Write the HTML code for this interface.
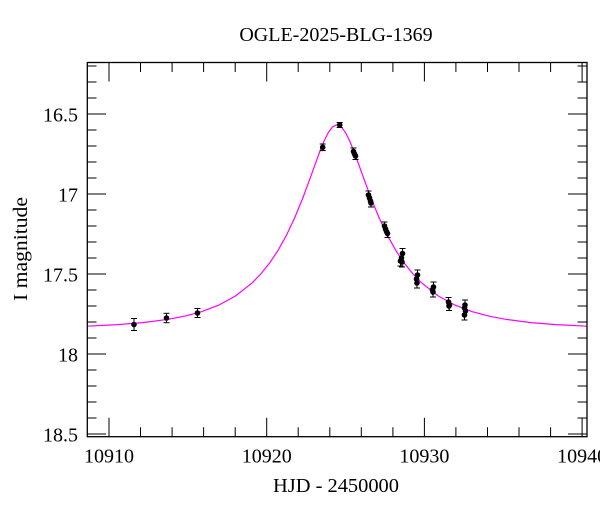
<!DOCTYPE html>
<html>
<head>
<meta charset="utf-8">
<style>
  html, body { margin: 0; padding: 0; background: #fff; }
  svg { display: block; }
  text { font-family: "Liberation Serif", "DejaVu Serif", serif; fill: #000; }
</style>
</head>
<body>
<svg width="600" height="512" viewBox="0 0 600 512" xmlns="http://www.w3.org/2000/svg">
  <rect x="0" y="0" width="600" height="512" fill="#fff"/>

  <!-- Title -->
  <text x="336" y="41" font-size="20" text-anchor="middle">OGLE-2025-BLG-1369</text>

  <!-- Model curve -->
  <polyline fill="none" stroke="#ff00ff" stroke-width="1.2" points="
    87,326.2 117.54,324.66 142.85,322.6 168.16,319.33 185.03,316.09 201.91,311.54 218.78,305.09 235.66,295.86 252.53,282.54 260.97,273.79 269.40,263.28 277.84,250.65 286.28,235.58 294.72,217.74 303.15,197.1 311.59,174.17 315.81,162.39 320.03,151.0 324.24,140.66 328.46,132.26 332.68,126.72 336.9,124.78 341.12,126.72 345.34,132.26 349.56,140.66 353.77,151.0 357.99,162.39 362.21,174.17 370.65,197.1 379.09,217.74 387.52,235.58 395.96,250.65 404.40,263.28 412.83,273.79 421.27,282.54 438.14,295.86 455.02,305.09 471.89,311.54 488.77,316.09 505.64,319.33 530.95,322.6 556.26,324.66 587,326.2"/>

  <!-- Data points with error bars -->
  <g stroke="#000" stroke-width="1" fill="#000">
    <!-- helper: each point = vertical bar, two caps, circle -->
    <g>
      <line x1="134" y1="318.5" x2="134" y2="330.5"/><line x1="131" y1="318.5" x2="137" y2="318.5"/><line x1="131" y1="330.5" x2="137" y2="330.5"/><circle cx="134" cy="324.5" r="2.8" stroke="none"/>
      <line x1="166.5" y1="313.3" x2="166.5" y2="322.7"/><line x1="163.5" y1="313.3" x2="169.5" y2="313.3"/><line x1="163.5" y1="322.7" x2="169.5" y2="322.7"/><circle cx="166.5" cy="318" r="2.8" stroke="none"/>
      <line x1="197.5" y1="308.5" x2="197.5" y2="317.5"/><line x1="194.5" y1="308.5" x2="200.5" y2="308.5"/><line x1="194.5" y1="317.5" x2="200.5" y2="317.5"/><circle cx="197.5" cy="313" r="2.8" stroke="none"/>

      <line x1="322.7" y1="144" x2="322.7" y2="150.6"/><line x1="319.7" y1="144" x2="325.7" y2="144"/><line x1="319.7" y1="150.6" x2="325.7" y2="150.6"/><circle cx="322.7" cy="147.3" r="2.8" stroke="none"/>
      <line x1="339.7" y1="122.5" x2="339.7" y2="127.5"/><line x1="336.7" y1="122.5" x2="342.7" y2="122.5"/><line x1="336.7" y1="127.5" x2="342.7" y2="127.5"/><circle cx="339.7" cy="125" r="2.8" stroke="none"/>
    </g>

    <!-- cluster 354 -->
    <g>
      <line x1="353.5" y1="148" x2="353.5" y2="155"/><line x1="350.5" y1="148" x2="356.5" y2="148"/><circle cx="353.5" cy="151.5" r="2.8" stroke="none"/>
      <line x1="354.5" y1="150.5" x2="354.5" y2="157.5"/><circle cx="354.5" cy="154" r="2.8" stroke="none"/>
      <line x1="355.5" y1="152.5" x2="355.5" y2="159.5"/><line x1="352.5" y1="159.5" x2="358.5" y2="159.5"/><circle cx="355.5" cy="156" r="2.8" stroke="none"/>
    </g>
    <!-- cluster 369 -->
    <g>
      <line x1="368.5" y1="191" x2="368.5" y2="199"/><line x1="365.5" y1="191" x2="371.5" y2="191"/><circle cx="368.5" cy="195" r="2.8" stroke="none"/>
      <line x1="369.5" y1="194" x2="369.5" y2="202"/><circle cx="369.5" cy="198" r="2.8" stroke="none"/>
      <line x1="370.5" y1="197" x2="370.5" y2="205"/><circle cx="370.5" cy="201" r="2.8" stroke="none"/>
      <line x1="371" y1="199" x2="371" y2="207"/><line x1="368" y1="207" x2="374" y2="207"/><circle cx="371" cy="203" r="2.8" stroke="none"/>
    </g>
    <!-- cluster 386 -->
    <g>
      <line x1="384.5" y1="222" x2="384.5" y2="230"/><line x1="381.5" y1="222" x2="387.5" y2="222"/><circle cx="384.5" cy="226" r="2.8" stroke="none"/>
      <line x1="385.5" y1="225" x2="385.5" y2="233"/><circle cx="385.5" cy="229" r="2.8" stroke="none"/>
      <line x1="386.5" y1="227.5" x2="386.5" y2="235.5"/><circle cx="386.5" cy="231.5" r="2.8" stroke="none"/>
      <line x1="387.5" y1="229.5" x2="387.5" y2="237.5"/><line x1="384.5" y1="237.5" x2="390.5" y2="237.5"/><circle cx="387.5" cy="233.5" r="2.8" stroke="none"/>
    </g>
    <!-- cluster 402 -->
    <g>
      <line x1="402.5" y1="248.5" x2="402.5" y2="258.5"/><line x1="399.5" y1="248.5" x2="405.5" y2="248.5"/><circle cx="402.5" cy="253.5" r="2.8" stroke="none"/>
      <line x1="401.5" y1="253" x2="401.5" y2="263"/><circle cx="401.5" cy="258" r="2.8" stroke="none"/>
      <line x1="400.5" y1="256" x2="400.5" y2="266"/><line x1="397.5" y1="266" x2="403.5" y2="266"/><circle cx="400.5" cy="261" r="2.8" stroke="none"/>
      <line x1="402" y1="257" x2="402" y2="267"/><line x1="399" y1="267" x2="405" y2="267"/><circle cx="402" cy="262" r="2.8" stroke="none"/>
    </g>
    <!-- cluster 417 -->
    <g>
      <line x1="417.5" y1="270" x2="417.5" y2="280"/><line x1="414.5" y1="270" x2="420.5" y2="270"/><circle cx="417.5" cy="275" r="2.8" stroke="none"/>
      <line x1="416.5" y1="274" x2="416.5" y2="284"/><circle cx="416.5" cy="279" r="2.8" stroke="none"/>
      <line x1="417" y1="278" x2="417" y2="288"/><line x1="414" y1="288" x2="420" y2="288"/><circle cx="417" cy="283" r="2.8" stroke="none"/>
    </g>
    <!-- cluster 433 -->
    <g>
      <line x1="433.5" y1="282" x2="433.5" y2="292"/><line x1="430.5" y1="282" x2="436.5" y2="282"/><circle cx="433.5" cy="287" r="2.8" stroke="none"/>
      <line x1="432.5" y1="285" x2="432.5" y2="295"/><circle cx="432.5" cy="290" r="2.8" stroke="none"/>
      <line x1="433" y1="287" x2="433" y2="297"/><line x1="430" y1="297" x2="436" y2="297"/><circle cx="433" cy="292" r="2.8" stroke="none"/>
    </g>
    <!-- cluster 449 -->
    <g>
      <line x1="448.5" y1="297.5" x2="448.5" y2="306.5"/><line x1="445.5" y1="297.5" x2="451.5" y2="297.5"/><circle cx="448.5" cy="302" r="2.8" stroke="none"/>
      <line x1="449.5" y1="300.5" x2="449.5" y2="309.5"/><circle cx="449.5" cy="305" r="2.8" stroke="none"/>
      <line x1="449" y1="301.5" x2="449" y2="310.5"/><line x1="446" y1="310.5" x2="452" y2="310.5"/><circle cx="449" cy="306" r="2.8" stroke="none"/>
    </g>
    <!-- cluster 465 -->
    <g>
      <line x1="465" y1="300" x2="465" y2="310"/><line x1="462" y1="300" x2="468" y2="300"/><circle cx="465" cy="305" r="2.8" stroke="none"/>
      <line x1="464.5" y1="303" x2="464.5" y2="313"/><circle cx="464.5" cy="308" r="2.8" stroke="none"/>
      <line x1="465.5" y1="306" x2="465.5" y2="316"/><circle cx="465.5" cy="311" r="2.8" stroke="none"/>
      <line x1="464.5" y1="310" x2="464.5" y2="320"/><line x1="461.5" y1="320" x2="467.5" y2="320"/><circle cx="464.5" cy="315" r="2.8" stroke="none"/>
    </g>
  </g>

  <!-- Axes frame -->
  <rect x="87.3" y="62.5" width="499.7" height="374.2" fill="none" stroke="#000" stroke-width="1.3"/>

  <!-- Ticks -->
  <g stroke="#000" stroke-width="1">
    <!-- Left & right: major -->
    <path d="M87,114 h19 M87,194 h19 M87,274 h19 M87,354 h19 M87,434 h19
             M587,114 h-19 M587,194 h-19 M587,274 h-19 M587,354 h-19 M587,434 h-19"/>
    <!-- Left & right: minor -->
    <path d="M87,66 h9.5 M87,82 h9.5 M87,98 h9.5 M87,130 h9.5 M87,146 h9.5 M87,162 h9.5 M87,178 h9.5
             M87,210 h9.5 M87,226 h9.5 M87,242 h9.5 M87,258 h9.5 M87,290 h9.5 M87,306 h9.5 M87,322 h9.5 M87,338 h9.5
             M87,370 h9.5 M87,386 h9.5 M87,402 h9.5 M87,418 h9.5
             M587,66 h-9.5 M587,82 h-9.5 M587,98 h-9.5 M587,130 h-9.5 M587,146 h-9.5 M587,162 h-9.5 M587,178 h-9.5
             M587,210 h-9.5 M587,226 h-9.5 M587,242 h-9.5 M587,258 h-9.5 M587,290 h-9.5 M587,306 h-9.5 M587,322 h-9.5 M587,338 h-9.5
             M587,370 h-9.5 M587,386 h-9.5 M587,402 h-9.5 M587,418 h-9.5"/>
    <!-- Bottom & top: major -->
    <path d="M109,436.7 v-19 M266.7,436.7 v-19 M424.4,436.7 v-19 M582.1,436.7 v-19
             M109,62.5 v19 M266.7,62.5 v19 M424.4,62.5 v19 M582.1,62.5 v19"/>
    <!-- Bottom & top: minor -->
    <path d="M140.5,436.7 v-9.5 M172.1,436.7 v-9.5 M203.6,436.7 v-9.5 M235.2,436.7 v-9.5
             M298.2,436.7 v-9.5 M329.8,436.7 v-9.5 M361.3,436.7 v-9.5 M392.9,436.7 v-9.5
             M455.9,436.7 v-9.5 M487.5,436.7 v-9.5 M519.0,436.7 v-9.5 M550.6,436.7 v-9.5
             M140.5,62.5 v9.5 M172.1,62.5 v9.5 M203.6,62.5 v9.5 M235.2,62.5 v9.5
             M298.2,62.5 v9.5 M329.8,62.5 v9.5 M361.3,62.5 v9.5 M392.9,62.5 v9.5
             M455.9,62.5 v9.5 M487.5,62.5 v9.5 M519.0,62.5 v9.5 M550.6,62.5 v9.5"/>
  </g>

  <!-- Y tick labels -->
  <g font-size="20" text-anchor="end">
    <text x="78" y="121.5">16.5</text>
    <text x="78" y="201.5">17</text>
    <text x="78" y="281.5">17.5</text>
    <text x="78" y="361.5">18</text>
    <text x="78" y="441.5">18.5</text>
  </g>

  <!-- X tick labels -->
  <g font-size="20" text-anchor="middle">
    <text x="109" y="462.5">10910</text>
    <text x="266.7" y="462.5">10920</text>
    <text x="424.4" y="462.5">10930</text>
    <text x="582.1" y="462.5">10940</text>
  </g>

  <!-- Axis labels -->
  <text x="336" y="492" font-size="20" text-anchor="middle" textLength="126" lengthAdjust="spacingAndGlyphs">HJD - 2450000</text>
  <text transform="translate(27,249) rotate(-90)" font-size="20" text-anchor="middle" textLength="104" lengthAdjust="spacingAndGlyphs">I magnitude</text>
</svg>
</body>
</html>
